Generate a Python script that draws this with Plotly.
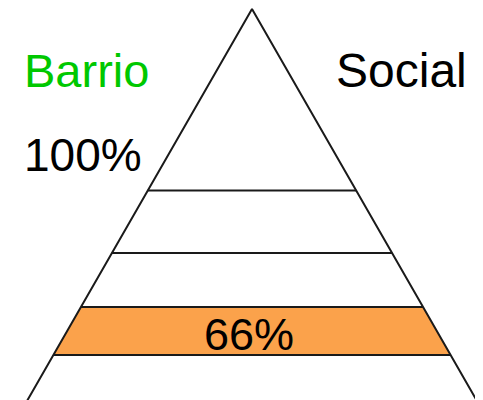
import plotly.graph_objects as go

# ---- data ----
labels_top = ["Barrio", "Social"]
label_colors = ["#00c800", "#000000"]
level_label = "100%"
band_label = "66%"
# tier boundary depths (fraction of pyramid depth to the image bottom)
tier_depths = [0.464, 0.624, 0.762, 0.885]
highlight_tier = (2, 3)  # band between these boundaries

# ---- geometry (layout) ----
W, H = 483, 400
OFF = 8  # page body margin
apex_x, apex_y = 252, 9
half_slope = 0.574
depth_total = H - apex_y

def y_of(d):
    return apex_y + d * depth_total

def half_w(y):
    return half_slope * (y - apex_y)

fig = go.Figure()

# orange band
ya = y_of(tier_depths[highlight_tier[0]])
yb = y_of(tier_depths[highlight_tier[1]])
fig.add_trace(go.Scatter(
    x=[apex_x - half_w(ya), apex_x + half_w(ya), apex_x + half_w(yb), apex_x - half_w(yb), apex_x - half_w(ya)],
    y=[ya, ya, yb, yb, ya],
    fill="toself", fillcolor="#fba24b", mode="lines", line=dict(width=0),
    hoverinfo="skip", showlegend=False))

# horizontal tier lines
hx, hy = [], []
for d in tier_depths:
    y = y_of(d)
    hx += [apex_x - half_w(y), apex_x + half_w(y), None]
    hy += [y, y, None]
fig.add_trace(go.Scatter(x=hx, y=hy, mode="lines",
                         line=dict(color="#1a1a1a", width=2),
                         hoverinfo="skip", showlegend=False))

# triangle sides
yb_end = H + 10
fig.add_trace(go.Scatter(
    x=[apex_x - half_w(yb_end), apex_x, apex_x + half_w(yb_end)],
    y=[yb_end, apex_y, yb_end], mode="lines",
    line=dict(color="#1a1a1a", width=2),
    hoverinfo="skip", showlegend=False))

font = "Liberation Sans, Arial, sans-serif"
anns = [
    dict(x=86, y=70, text=labels_top[0], color=label_colors[0], size=47),
    dict(x=401, y=70, text=labels_top[1], color=label_colors[1], size=48),
    dict(x=82.5, y=155, text=level_label, color="#000000", size=46),
    dict(x=249, y=334, text=band_label, color="#000000", size=45),
]
for a in anns:
    fig.add_annotation(x=a["x"], y=a["y"], text=a["text"], showarrow=False,
                       xanchor="center", yanchor="middle",
                       font=dict(family=font, size=a["size"], color=a["color"]))

fig.update_xaxes(range=[OFF, W], visible=False, fixedrange=True)
fig.update_yaxes(range=[H, OFF], visible=False, fixedrange=True)
fig.update_layout(width=W - OFF, height=H - OFF, margin=dict(l=0, r=0, t=0, b=0),
                  paper_bgcolor="white", plot_bgcolor="white")

fig.write_html("out.html", config={"displayModeBar": False})
